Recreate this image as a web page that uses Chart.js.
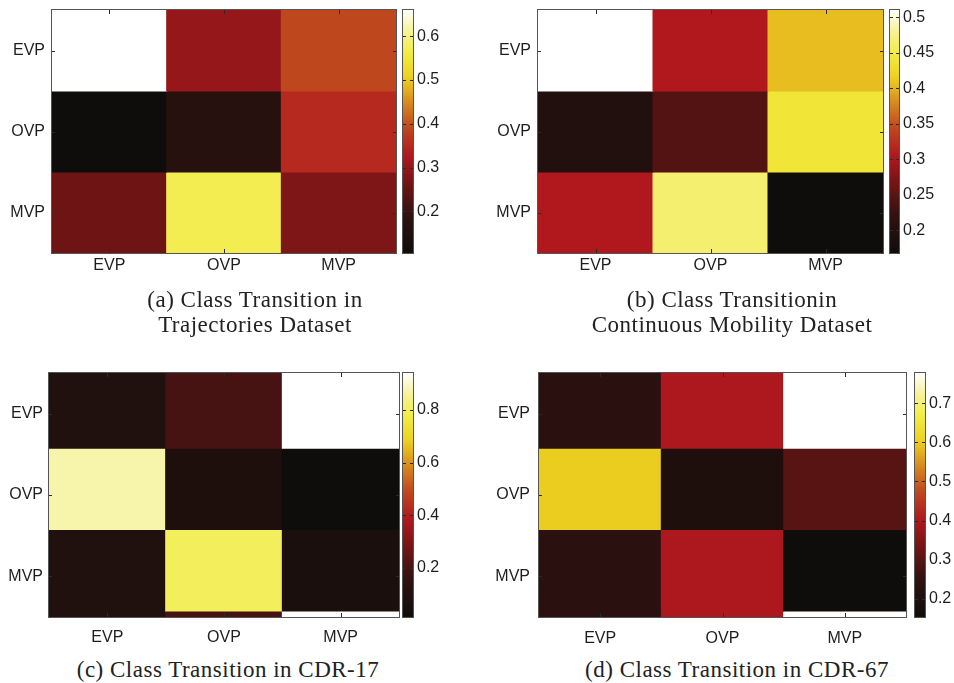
<!DOCTYPE html>
<html>
<head>
<meta charset="utf-8">
<script src="https://cdn.jsdelivr.net/npm/chart.js@4.4.0/dist/chart.umd.min.js"></script>
<style>
  body { margin: 0; background: #fff; width: 954px; height: 683px; position: relative; overflow: hidden; }
  canvas { position: absolute; }
  .cap { position: absolute; width: 440px; text-align: center; white-space: nowrap; letter-spacing: 0.5px;
         font-family: "Liberation Serif", "DejaVu Serif", serif; font-size: 23px; line-height: 25px; color: #222; }
</style>
</head>
<body>
<canvas id="hmA" width="400" height="290" style="left:0;top:0"></canvas>
<canvas id="cbA" width="51" height="263" style="left:402px;top:0"></canvas>
<canvas id="hmB" width="410" height="290" style="left:477px;top:0"></canvas>
<canvas id="cbB" width="50" height="263" style="left:889px;top:0"></canvas>
<canvas id="hmC" width="403" height="317" style="left:0;top:340px"></canvas>
<canvas id="cbC" width="51" height="264" style="left:402px;top:363px"></canvas>
<canvas id="hmD" width="433" height="317" style="left:477px;top:340px"></canvas>
<canvas id="cbD" width="40" height="264" style="left:914px;top:363px"></canvas>

<div class="cap" style="left:35px;top:287px">(a) Class Transition in<br>Trajectories Dataset</div>
<div class="cap" style="left:512px;top:287px">(b) Class Transitionin<br>Continuous Mobility Dataset</div>
<div class="cap" style="left:8px;top:657px">(c) Class Transition in CDR-17</div>
<div class="cap" style="left:517px;top:657px">(d) Class Transition in CDR-67</div>

<script>
// ============================
// Data
// ============================
const classes = ['EVP', 'OVP', 'MVP'];

// rows: EVP, OVP, MVP (top to bottom), columns: EVP, OVP, MVP
const trajValues = [
    [0.66, 0.30, 0.39],
    [0.105, 0.17, 0.35],
    [0.26, 0.57, 0.275]
];
const trajTicks = [0.2, 0.3, 0.4, 0.5, 0.6];

const mobilityValues = [
    [0.51, 0.305, 0.405],
    [0.20, 0.245, 0.44],
    [0.305, 0.465, 0.168]
];
const mobilityTicks = [0.2, 0.25, 0.3, 0.35, 0.4, 0.45, 0.5];

const cdr17Values = [
    [0.09, 0.20, 0.94],
    [0.875, 0.08, 0.014],
    [0.09, 0.80, 0.07]
];
const cdr17Ticks = [0.2, 0.4, 0.6, 0.8];

const cdr67Values = [
    [0.235, 0.40, 0.777],
    [0.60, 0.20, 0.30],
    [0.235, 0.40, 0.154]
];
const cdr67Ticks = [0.2, 0.3, 0.4, 0.5, 0.6, 0.7];

// ============================
// Colormap (black -> red -> yellow -> white)
// ============================
const cmapStops = [
    [0.00, [15, 13, 11]],
    [0.15, [46, 18, 16]],
    [0.27, [106, 20, 20]],
    [0.40, [176, 24, 30]],
    [0.52, [192, 74, 30]],
    [0.62, [216, 138, 32]],
    [0.72, [236, 208, 32]],
    [0.82, [242, 236, 64]],
    [0.92, [246, 242, 160]],
    [1.00, [255, 255, 255]]
];

function cmap(t) {
    t = Math.max(0, Math.min(1, t));
    for (let i = 1; i < cmapStops.length; i++) {
        const [t1, c1] = cmapStops[i];
        if (t <= t1) {
            const [t0, c0] = cmapStops[i - 1];
            const f = (t - t0) / (t1 - t0);
            const c = c0.map((v, k) => Math.round(v + (c1[k] - v) * f));
            return `rgb(${c[0]},${c[1]},${c[2]})`;
        }
    }
    return 'rgb(255,255,255)';
}

// ============================
// Plugin: axes box + inward tick marks
// ============================
const boxTicks = {
    id: 'boxTicks',
    afterDatasetsDraw(chart, args, opts) {
        const { ctx, chartArea: a, scales } = chart;
        ctx.save();
        ctx.strokeStyle = '#2a2a2a';
        ctx.lineWidth = 1;
        ctx.beginPath();
        if (opts.xTicks) {
            scales.x.ticks.forEach((t, i) => {
                const px = Math.round(scales.x.getPixelForTick(i)) + 0.5;
                ctx.moveTo(px, a.bottom); ctx.lineTo(px, a.bottom - 4);
                ctx.moveTo(px, a.top);    ctx.lineTo(px, a.top + 4);
            });
        }
        scales.y.ticks.forEach(t => {
            const py = Math.round(scales.y.getPixelForValue(t.value)) + 0.5;
            ctx.moveTo(a.left, py);  ctx.lineTo(a.left + 3, py);
            ctx.moveTo(a.right, py); ctx.lineTo(a.right - 3, py);
        });
        ctx.stroke();
        ctx.strokeStyle = '#555';
        ctx.strokeRect(Math.round(a.left) - 0.5, Math.round(a.top) - 0.5,
                       Math.round(a.right - a.left) + 1, Math.round(a.bottom - a.top) + 1);
        ctx.restore();
    }
};

const tickFont = { family: '"Liberation Sans", Arial, sans-serif', size: 16 };

// fixed axis size, no extra padding for overhanging labels
function fixSize(s, w, h) {
    if (w !== undefined) s.width = w;
    if (h !== undefined) s.height = h;
    s.paddingTop = s.paddingBottom = s.paddingLeft = s.paddingRight = 0;
}

// ============================
// Heatmap (floating bars, one dataset per row)
// ============================
function createHeatmap(id, values, opt) {
    const flat = values.flat();
    const lo = Math.min(...flat), hi = Math.max(...flat);
    const shift = opt.shift || 0;
    const colour = v => cmap((v - lo) / (hi - lo));

    const datasets = values.map((row, r) => ({
        data: row.map(() => [r, r + 1]),
        backgroundColor: row.map(colour)
    }));
    // image is shifted up slightly in (c)/(d): top row wraps round to the bottom
    if (shift) {
        datasets.push({
            data: values[0].map(() => [3, 4]),
            backgroundColor: values[0].map(colour)
        });
    }

    return new Chart(document.getElementById(id), {
        type: 'bar',
        data: { labels: classes, datasets },
        plugins: [boxTicks],
        options: {
            responsive: false,
            animation: false,
            layout: { padding: { top: opt.top, right: 4, left: 0, bottom: 0 } },
            datasets: { bar: { grouped: false, barPercentage: 1, categoryPercentage: 1, borderWidth: 0, inflateAmount: 0.5 } },
            plugins: { legend: { display: false }, tooltip: { enabled: false }, boxTicks: { xTicks: true } },
            scales: {
                x: {
                    grid: { display: false, drawTicks: false },
                    border: { display: false },
                    ticks: { color: '#1e1e1e', font: tickFont, padding: opt.xPad, maxRotation: 0 },
                    afterFit: s => fixSize(s, undefined, opt.xHeight)
                },
                y: {
                    min: shift, max: 3 + shift, reverse: true,
                    grid: { display: false, drawTicks: false },
                    border: { display: false },
                    afterBuildTicks: s => { s.ticks = [0.5, 1.5, 2.5].map(v => ({ value: v + shift })); },
                    ticks: { color: '#1e1e1e', font: tickFont, padding: opt.yPad, autoSkip: false,
                             callback: (v, i) => classes[i] },
                    afterFit: s => fixSize(s, opt.yWidth)
                }
            }
        }
    });
}

// ============================
// Colour bar
// ============================
function createColorbar(id, values, tickVals, axisWidth) {
    const flat = values.flat();
    const lo = Math.min(...flat), hi = Math.max(...flat);

    return new Chart(document.getElementById(id), {
        type: 'bar',
        data: {
            labels: [''],
            datasets: [{
                data: [[lo, hi]],
                backgroundColor: c => {
                    const area = c.chart.chartArea;
                    if (!area) return '#000';
                    const g = c.chart.ctx.createLinearGradient(0, area.bottom, 0, area.top);
                    for (let i = 0; i <= 40; i++) g.addColorStop(i / 40, cmap(i / 40));
                    return g;
                }
            }]
        },
        plugins: [boxTicks],
        options: {
            responsive: false,
            animation: false,
            layout: { padding: { top: 10, bottom: 10, left: 1, right: 0 } },
            datasets: { bar: { barPercentage: 1, categoryPercentage: 1, borderWidth: 0 } },
            plugins: { legend: { display: false }, tooltip: { enabled: false }, boxTicks: { xTicks: false } },
            scales: {
                x: { display: false },
                y: {
                    position: 'right',
                    min: lo, max: hi,
                    grid: { display: false, drawTicks: false },
                    border: { display: false },
                    afterBuildTicks: s => { s.ticks = tickVals.map(v => ({ value: v })); },
                    ticks: { color: '#1e1e1e', font: tickFont, padding: 4, autoSkip: false,
                             callback: v => String(v) },
                    afterFit: s => fixSize(s, axisWidth)
                }
            }
        }
    });
}

createHeatmap('hmA', trajValues,     { top: 10, xHeight: 37, xPad: 3,  yPad: 7, yWidth: 52 });
createHeatmap('hmB', mobilityValues, { top: 10, xHeight: 37, xPad: 3,  yPad: 7, yWidth: 61 });
createHeatmap('hmC', cdr17Values,    { top: 33, xHeight: 40, xPad: 11, yPad: 6, yWidth: 49, shift: 0.075 });
createHeatmap('hmD', cdr67Values,    { top: 33, xHeight: 40, xPad: 12, yPad: 9, yWidth: 62, shift: 0.075 });

createColorbar('cbA', trajValues,     trajTicks,     40);
createColorbar('cbB', mobilityValues, mobilityTicks, 40);
createColorbar('cbC', cdr17Values,    cdr17Ticks,    40);
createColorbar('cbD', cdr67Values,    cdr67Ticks,    29);
</script>
</body>
</html>
